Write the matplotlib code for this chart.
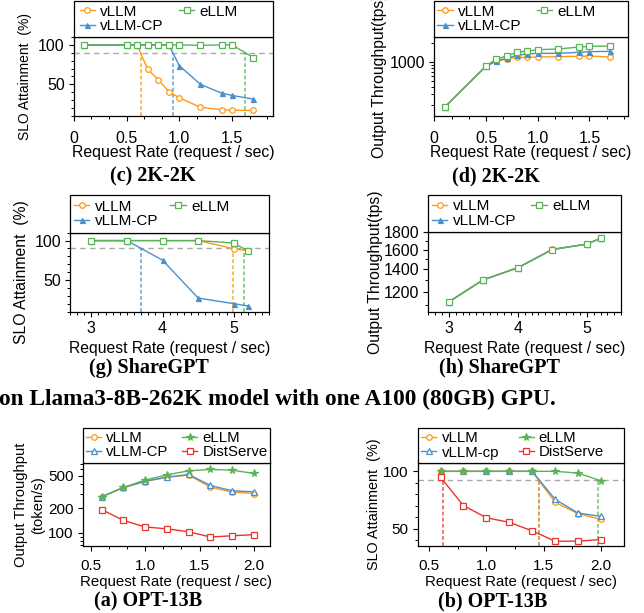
import matplotlib
matplotlib.use('Agg')
import matplotlib.pyplot as plt
import numpy as np
from matplotlib.ticker import (FixedLocator, FixedFormatter, NullFormatter,
                               MultipleLocator, LogLocator, AutoMinorLocator)
from matplotlib.patches import Rectangle

plt.rcParams['font.family'] = ['Liberation Sans', 'DejaVu Sans']

# ---------------- data ----------------
c_x = [0.1, 0.5, 0.6, 0.7, 0.8, 0.9, 1.0, 1.2, 1.4, 1.5, 1.7]
c_vllm = [100, 100, 100, 69, 56, 41, 33, 21, 18, 17.4, 17]
c_cp = [100, 100, 100, 100, 100, 100, 73.7, 50, 39, 36, 31.4]
c_ellm = [100, 100, 100, 100, 100, 100, 100, 99.5, 100, 100, 84]
c_thr = 90
c_xticks = [0, 0.5, 1.0, 1.5]
c_xticklabels = ['0', '0.5', '1.0', '1.5']

d_x = [0.1, 0.5, 0.6, 0.7, 0.8, 0.9, 1.0, 1.2, 1.4, 1.5, 1.7]
d_vllm = [188, 851, 1025, 1118, 1189, 1189, 1204, 1219, 1234, 1249, 1204]
d_cp = [188, 858, 1050, 1146, 1281, 1346, 1380, 1380, 1432, 1468, 1486]
d_ellm = [188, 862, 1118, 1249, 1432, 1504, 1581, 1621, 1746, 1789, 1811]
d_yticks = [1000]

g_x = [3, 3.5, 4, 4.5, 5, 5.2]
g_vllm = [100, 100, 100, 100, 89.8, 87]
g_cp = [100, 100, 75.2, 27.3, 20.2, 17.2]
g_ellm = [100, 100, 100, 100, 97, 87]
g_thr = 90
g_xticks = [3, 4, 5]

h_x = [3, 3.5, 4, 4.5, 5, 5.2]
h_vllm = [1122, 1305, 1416, 1604, 1660, 1728]
h_cp = [1121, 1303, 1414, 1602, 1661, 1728]
h_ellm = [1120, 1302, 1413, 1600, 1662, 1728]
h_yticks = [1200, 1400, 1600, 1800]
h_yminor = [1100, 1300, 1500, 1700]

a_x = [0.6, 0.8, 1.0, 1.2, 1.4, 1.6, 1.8, 2.0]
a_vllm = [276, 357, 425, 480, 509, 362, 315, 303]
a_cp = [276, 359, 429, 480, 518, 380, 327, 318]
a_ellm = [276, 359, 442, 513, 574, 597, 585, 533]
a_dist = [193, 142, 118, 112, 103, 89, 92, 95]
a_yticks = [100, 200, 500]
a_xticks = [0.5, 1.0, 1.5, 2.0]

b_x = [0.6, 0.8, 1.0, 1.2, 1.4, 1.6, 1.8, 2.0]
b_vllm = [100, 100, 100, 100, 100, 73.1, 63.2, 58.2]
b_cp = [100, 100, 100, 100, 100, 75.7, 63.7, 60.8]
b_ellm = [100, 100, 100, 100, 100, 100, 98.5, 91.8]
b_dist = [94.7, 70.2, 59.6, 55.6, 48.2, 39.2, 39.2, 40.6]
b_thr = 92.5
b_xticks = [0.5, 1.0, 1.5, 2.0]

# ---------------- style ----------------
ORANGE = '#ff9a10'
BLUE = '#4a90cc'
GREEN = '#58b457'
RED = '#e8352e'

W, H = 644, 613
fig = plt.figure(figsize=(W / 100, H / 100), dpi=100)


def add_ax(l, r, t, b, xpad=3, ypad=3, lsize=11.5):
    ax = fig.add_axes([l / W, 1 - b / H, (r - l) / W, (b - t) / H])
    ax._px = (l, r, t, b)
    for s in ax.spines.values():
        s.set_linewidth(0.9)
    ax.tick_params(which='major', direction='out', length=3.5, width=0.8,
                   labelsize=lsize)
    ax.tick_params(which='minor', direction='out', length=2.2, width=0.7)
    ax.tick_params(axis='x', which='major', pad=xpad)
    ax.tick_params(axis='y', which='major', pad=ypad)
    return ax


def series(ax, x, y, color, marker, label, ms=4.0, filled=False, z=2):
    mfc = color if filled else 'white'
    ln, = ax.plot(x, y, color=color, marker=marker, ms=ms, mfc=mfc,
                  mec=color, mew=0.9, lw=1.0, label=label, zorder=z)
    return ln


def legend_box(ax, handles, labels, top_px, x_off_px, colsp, fs=11, lsp=0.03):
    l, r, t, b = ax._px
    h = (t - top_px) / (b - t)
    rect = Rectangle((0, 1), 1, h, transform=ax.transAxes, clip_on=False,
                     facecolor='white', edgecolor='black', lw=0.9, zorder=4.9)
    ax.add_patch(rect)
    ax.legend(handles, labels, ncol=2, loc='center left',
              bbox_to_anchor=(x_off_px / (r - l), 1 + h / 2),
              frameon=False, borderpad=0, borderaxespad=0, fontsize=fs,
              handlelength=1.0, handletextpad=0.35, columnspacing=colsp,
              labelspacing=lsp)


def ylab(ax, text, right_px, fs, **kw):
    l, r, t, b = ax._px
    ax.set_ylabel(text, fontsize=fs, **kw)
    ax.yaxis.set_label_coords((right_px - l) / (r - l), 0.5)


def xlab(ax, text, top_px, fs):
    l, r, t, b = ax._px
    ax.set_xlabel(text, fontsize=fs)
    ax.xaxis.set_label_coords(0.5, -(top_px - b) / (b - t))


def crossing(x, y, thr):
    for i in range(len(y) - 1):
        if y[i] >= thr > y[i + 1]:
            return x[i] + (x[i + 1] - x[i]) * (y[i] - thr) / (y[i] - y[i + 1])
    return None


def slo_lines(ax, pairs, thr):
    ax.axhline(thr, color='#aaaaaa', lw=1.0, ls=(0, (4, 3)), zorder=1)
    y0 = ax.get_ylim()[0]
    for x, y, col in pairs:
        xc = crossing(x, y, thr)
        if xc is not None:
            ax.vlines(xc, y0, thr, colors=col, lw=1.1, ls=(0, (2.5, 1.5)),
                      alpha=0.85, zorder=1)


def caption(x, y, text, fs=14.5):
    fig.text(x / W, 1 - y / H, text, ha='center', va='baseline',
             fontsize=fs, fontweight='bold', family='Liberation Serif')


# ---------------- (c) ----------------
ax = add_ax(73.8, 273.3, 37, 116, xpad=7.5)
l1 = series(ax, c_x, c_vllm, ORANGE, 'o', 'vLLM', ms=4.0)
l2 = series(ax, c_x, c_cp, BLUE, '^', 'vLLM-CP', ms=3.6, filled=True)
l3 = series(ax, c_x, c_ellm, GREEN, 's', 'eLLM', ms=4.0)
ax.set_xlim(0, 1.89)
ax.set_ylim(10, 110)
ax.xaxis.set_major_locator(FixedLocator(c_xticks))
ax.xaxis.set_major_formatter(FixedFormatter(c_xticklabels))
ax.xaxis.set_minor_locator(AutoMinorLocator(3))
ax.yaxis.set_major_locator(FixedLocator([50, 100]))
ax.yaxis.set_minor_locator(MultipleLocator(10))
slo_lines(ax, [(c_x, c_ellm, GREEN), (c_x, c_cp, BLUE), (c_x, c_vllm, ORANGE)], c_thr)
legend_box(ax, [l1, l2, l3], ['vLLM', 'vLLM-CP', 'eLLM'], 0.5, 6, 1.0)
ylab(ax, 'SLO Attainment  (%)', 32, 10)
xlab(ax, 'Request Rate (request / sec)', 145.5, 11.4)
caption(152.5, 181.7, '(c) 2K-2K')

# ---------------- (d) ----------------
ax = add_ax(434.3, 627.7, 37, 116, xpad=7.5)
l1 = series(ax, d_x, d_vllm, ORANGE, 'o', 'vLLM', ms=4.0)
l2 = series(ax, d_x, d_cp, BLUE, '^', 'vLLM-CP', ms=3.6, filled=True)
l3 = series(ax, d_x, d_ellm, GREEN, 's', 'eLLM', ms=4.0)
ax.set_yscale('log')
ax.set_xlim(0, 1.87)
ax.set_ylim(135, 2530)
ax.xaxis.set_major_locator(FixedLocator(c_xticks))
ax.xaxis.set_major_formatter(FixedFormatter(c_xticklabels))
ax.xaxis.set_minor_locator(AutoMinorLocator(3))
ax.yaxis.set_major_locator(FixedLocator(d_yticks))
ax.yaxis.set_major_formatter(FixedFormatter([str(v) for v in d_yticks]))
ax.yaxis.set_minor_locator(LogLocator(base=10, subs=np.arange(1, 10)))
ax.yaxis.set_minor_formatter(NullFormatter())
legend_box(ax, [l1, l2, l3], ['vLLM', 'vLLM-CP', 'eLLM'], 0.5, 3, 1.0)
ylab(ax, 'Output Throughput(tps)', 387, 11.3)
xlab(ax, 'Request Rate (request / sec)', 145.5, 11.3)
caption(496, 181.7, '(d) 2K-2K')

# ---------------- (g) ----------------
ax = add_ax(70, 269.3, 232.7, 311.7)
l1 = series(ax, g_x, g_vllm, ORANGE, 'o', 'vLLM', ms=4.0)
l2 = series(ax, g_x, g_cp, BLUE, '^', 'vLLM-CP', ms=3.6, filled=True)
l3 = series(ax, g_x, g_ellm, GREEN, 's', 'eLLM', ms=4.0)
ax.set_xlim(2.7, 5.5)
ax.set_ylim(10, 110)
ax.xaxis.set_major_locator(FixedLocator(g_xticks))
ax.xaxis.set_minor_locator(MultipleLocator(0.1))
ax.yaxis.set_major_locator(FixedLocator([50, 100]))
ax.yaxis.set_minor_locator(MultipleLocator(10))
slo_lines(ax, [(g_x, g_ellm, GREEN), (g_x, g_cp, BLUE), (g_x, g_vllm, ORANGE)], g_thr)
legend_box(ax, [l1, l2, l3], ['vLLM', 'vLLM-CP', 'eLLM'], 195, 4, 0.8)
ylab(ax, 'SLO Attainment  (%)', 29.5, 11.3)
xlab(ax, 'Request Rate (request / sec)', 341.5, 11.3)
caption(149, 372.7, '(g) ShareGPT')

# ---------------- (h) ----------------
ax = add_ax(428, 621.3, 232.3, 312.3)
l1 = series(ax, h_x, h_vllm, ORANGE, 'o', 'vLLM', ms=4.0)
l2 = series(ax, h_x, h_cp, BLUE, '^', 'vLLM-CP', ms=3.6, filled=True)
l3 = series(ax, h_x, h_ellm, GREEN, 's', 'eLLM', ms=4.0)
ax.set_yscale('log')
ax.set_xlim(2.7, 5.5)
ax.set_ylim(1045, 1800)
ax.xaxis.set_major_locator(FixedLocator(g_xticks))
ax.xaxis.set_minor_locator(MultipleLocator(0.1))
ax.yaxis.set_major_locator(FixedLocator(h_yticks))
ax.yaxis.set_major_formatter(FixedFormatter([str(v) for v in h_yticks]))
ax.yaxis.set_minor_locator(FixedLocator(h_yminor))
ax.yaxis.set_minor_formatter(NullFormatter())
legend_box(ax, [l1, l2, l3], ['vLLM', 'vLLM-CP', 'eLLM'], 195, 4, 1.0)
ylab(ax, 'Output Throughput(tps)', 382.7, 11.3)
xlab(ax, 'Request Rate (request / sec)', 341.5, 11.3)
caption(499.5, 372.7, '(h) ShareGPT')

# ---------------- header text ----------------
fig.text(-1 / W, 1 - 405 / H, 'on Llama3-8B-262K model with one A100 (80GB) GPU.',
         ha='left', va='baseline', fontsize=16.8, fontweight='bold',
         family='Liberation Serif')

# ---------------- (a) ----------------
ax = add_ax(82.7, 270, 463.3, 546, xpad=5.5, lsize=11)
l1 = series(ax, a_x, a_vllm, ORANGE, 'o', 'vLLM', ms=4.0)
l2 = series(ax, a_x, a_cp, BLUE, '^', 'vLLM-CP', ms=4.0, filled=False)
l3 = series(ax, a_x, a_ellm, GREEN, '*', 'eLLM', ms=5.5, filled=True)
l4 = series(ax, a_x, a_dist, RED, 's', 'DistServe', ms=4.2)
ax.set_yscale('log')
ax.set_xlim(0.427, 2.147)
ax.set_ylim(69, 710)
ax.xaxis.set_major_locator(FixedLocator(a_xticks))
ax.xaxis.set_major_formatter(FixedFormatter(['0.5', '1.0', '1.5', '2.0']))
ax.xaxis.set_minor_locator(AutoMinorLocator(3))
ax.yaxis.set_major_locator(FixedLocator(a_yticks))
ax.yaxis.set_major_formatter(FixedFormatter([str(v) for v in a_yticks]))
ax.yaxis.set_minor_locator(LogLocator(base=10, subs=np.arange(1, 10)))
ax.yaxis.set_minor_formatter(NullFormatter())
legend_box(ax, [l1, l2, l3, l4], ['vLLM', 'vLLM-CP', 'eLLM', 'DistServe'],
           427.7, 3.3, 0.9, fs=10.8, lsp=0.0)
ylab(ax, 'Output Throughput\n(token/s)', 45, 10.6, linespacing=1.3)
xlab(ax, 'Request Rate (request / sec)', 575, 10.8)
caption(148, 606, '(a) OPT-13B')

# ---------------- (b) ----------------
ax = add_ax(417.7, 623.7, 463.3, 546, xpad=5.5, lsize=11)
l1 = series(ax, b_x, b_vllm, ORANGE, 'o', 'vLLM', ms=4.0)
l2 = series(ax, b_x, b_cp, BLUE, '^', 'vLLM-cp', ms=4.0, filled=False)
l3 = series(ax, b_x, b_ellm, GREEN, '*', 'eLLM', ms=5.5, filled=True)
l4 = series(ax, b_x, b_dist, RED, 's', 'DistServe', ms=4.2)
ax.set_xlim(0.4, 2.2)
ax.set_ylim(35, 107)
ax.xaxis.set_major_locator(FixedLocator(b_xticks))
ax.xaxis.set_major_formatter(FixedFormatter(['0.5', '1.0', '1.5', '2.0']))
ax.xaxis.set_minor_locator(AutoMinorLocator(2))
ax.yaxis.set_major_locator(FixedLocator([50, 100]))
ax.yaxis.set_minor_locator(MultipleLocator(10))
slo_lines(ax, [(b_x, b_ellm, GREEN), (b_x, b_cp, BLUE), (b_x, b_vllm, ORANGE),
               (b_x, b_dist, RED)], b_thr)
legend_box(ax, [l1, l2, l3, l4], ['vLLM', 'vLLM-cp', 'eLLM', 'DistServe'],
           427.7, 3.6, 1.3, fs=10.8, lsp=0.0)
ylab(ax, 'SLO Attainment  (%)', 381.3, 10.4)
xlab(ax, 'Request Rate (request / sec)', 575, 10.8)
caption(492.5, 606, '(b) OPT-13B')

fig.savefig('out.png', dpi=100)
